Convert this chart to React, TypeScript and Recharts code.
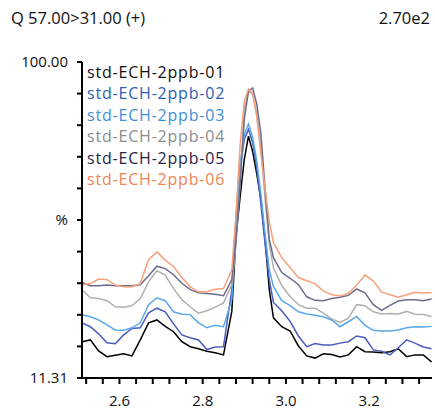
import { LineChart, Line, XAxis, YAxis } from "recharts";

const retention = [
  2.51, 2.53, 2.55, 2.57, 2.59, 2.61, 2.63, 2.65, 2.67, 2.69,
  2.71, 2.73, 2.75, 2.77, 2.79, 2.81, 2.83, 2.85,
  2.87, 2.88, 2.89, 2.9, 2.91, 2.92, 2.93, 2.94, 2.95, 2.96,
  2.97, 2.99, 3.01, 3.03, 3.05, 3.07, 3.09, 3.11, 3.13, 3.15,
  3.17, 3.19, 3.21, 3.23, 3.25, 3.27, 3.29, 3.31, 3.33, 3.35,
];

const ppb01 = [
  21.5, 22.0, 18.9, 17.3, 17.7, 18.1, 17.5, 22.0, 26.8, 27.6,
  25.8, 24.3, 21.5, 20.1, 19.5, 18.8, 18.4, 17.8,
  30.0, 51.0, 62.3, 72.7, 79.2, 74.9, 68.5, 61.4, 50.2, 36.1,
  28.2, 25.7, 24.5, 20.3, 17.5, 16.9, 18.1, 17.9, 17.2, 17.8,
  20.1, 18.7, 18.6, 18.4, 18.7, 19.5, 17.3, 17.8, 17.8, 15.8,
];
const ppb02 = [
  26.8, 25.7, 23.7, 21.2, 20.9, 23.4, 25.2, 25.4, 29.6, 30.9,
  29.9, 26.5, 23.4, 22.6, 22.0, 19.3, 20.0, 20.1,
  36.1, 56.4, 70.7, 78.3, 81.1, 77.5, 70.4, 60.0, 48.8, 38.9,
  32.5, 30.2, 27.2, 23.1, 20.1, 21.0, 20.6, 20.6, 21.1, 21.5,
  23.1, 22.6, 19.2, 18.8, 17.8, 19.8, 22.0, 21.1, 20.0, 19.5,
];
const ppb03 = [
  29.1, 28.5, 27.6, 26.2, 24.8, 24.7, 25.4, 26.8, 31.9, 33.8,
  33.0, 29.9, 29.2, 29.1, 26.8, 25.4, 26.1, 25.7,
  33.3, 54.4, 71.3, 79.7, 82.6, 78.9, 72.1, 62.8, 51.6, 41.7,
  37.0, 33.0, 31.6, 29.9, 29.3, 28.9, 28.5, 27.6, 25.7, 27.1,
  28.6, 26.1, 24.7, 24.5, 24.5, 24.8, 25.4, 25.7, 25.6, 25.8,
];
const ppb04 = [
  36.1, 33.8, 33.6, 33.0, 31.3, 31.2, 31.6, 33.6, 38.3, 41.4,
  40.2, 36.4, 33.3, 31.3, 29.5, 30.2, 31.2, 32.4,
  37.5, 48.8, 67.1, 86.8, 91.8, 91.0, 85.4, 75.5, 61.4, 48.8,
  42.3, 37.2, 34.2, 31.9, 30.9, 30.9, 29.5, 27.9, 26.9, 28.1,
  31.9, 31.6, 29.9, 29.3, 29.4, 29.3, 30.0, 29.2, 29.1, 28.6,
];
const ppb05 = [
  38.1, 37.2, 37.2, 37.4, 37.2, 37.2, 37.2, 37.5, 40.0, 42.7,
  42.0, 40.3, 37.9, 36.1, 35.2, 35.0, 34.8, 34.4,
  38.9, 50.2, 65.7, 84.0, 91.8, 92.7, 88.2, 79.7, 64.3, 50.2,
  45.1, 40.9, 39.3, 37.5, 34.1, 33.1, 33.0, 33.6, 34.0, 34.5,
  36.3, 35.2, 31.9, 30.3, 31.7, 32.9, 33.3, 33.3, 33.0, 33.5,
];
const ppb06 = [
  37.5, 37.8, 39.1, 38.9, 37.4, 36.9, 36.9, 37.8, 44.5, 46.7,
  44.4, 42.6, 39.5, 36.9, 35.5, 35.5, 36.2, 36.4,
  41.7, 57.2, 76.9, 89.0, 92.4, 91.3, 84.5, 74.1, 64.3, 55.2,
  49.3, 45.1, 42.3, 39.5, 38.6, 37.8, 35.7, 34.7, 34.3, 35.1,
  37.4, 40.2, 38.6, 35.4, 34.7, 34.0, 34.7, 35.4, 35.2, 35.3,
];

const xTicks = [
  2.52, 2.56, 2.6, 2.64, 2.68, 2.72, 2.76, 2.8, 2.84, 2.88, 2.92,
  2.96, 3.0, 3.04, 3.08, 3.12, 3.16, 3.2, 3.24, 3.28, 3.32,
];
const xLabels = ["2.6", "2.8", "3.0", "3.2"];

const yTicks = [
  11.31, 20.179, 29.048, 37.917, 46.786, 55.655, 64.524, 73.393, 82.262, 91.131, 100,
];

const series = [
  { key: "s01", name: "std-ECH-2ppb-01", values: ppb01, line: "#000000", text: "#111111" },
  { key: "s02", name: "std-ECH-2ppb-02", values: ppb02, line: "#4a5cc0", text: "#2c5fb2" },
  { key: "s03", name: "std-ECH-2ppb-03", values: ppb03, line: "#5aa8e8", text: "#3f8fd8" },
  { key: "s04", name: "std-ECH-2ppb-04", values: ppb04, line: "#b0b0b0", text: "#8c8c8c" },
  { key: "s05", name: "std-ECH-2ppb-05", values: ppb05, line: "#6b6d8c", text: "#29253f" },
  { key: "s06", name: "std-ECH-2ppb-06", values: ppb06, line: "#f7a07a", text: "#f08454" },
];

const data = retention.map((t, i) => {
  const row: Record<string, number> = { t };
  series.forEach((s) => {
    row[s.key] = s.values[i];
  });
  return row;
});

const font = "'Open Sans', sans-serif";

function fmtX(v: number) {
  const label = v.toFixed(1);
  return Math.abs(v * 5 - Math.round(v * 5)) < 0.001 && xLabels.includes(label) ? label : "";
}

function fmtY(v: number) {
  if (v === 100) return "100.00";
  if (v === 11.31) return "11.31";
  if (Math.abs(v - 55.655) < 0.01) return "%";
  return "";
}

export default function App() {
  return (
    <div
      style={{
        position: "absolute",
        left: 0,
        top: 0,
        width: 435,
        height: 409,
        background: "#fff",
        fontFamily: font,
      }}
    >
      <div style={{ position: "absolute", left: 11, top: 6, fontSize: 16.5, color: "#111", whiteSpace: "nowrap" }}>
        Q 57.00&gt;31.00 (+)
      </div>
      <div style={{ position: "absolute", right: 5, top: 6, fontSize: 16.5, color: "#111" }}>
        2.70e2
      </div>
      <LineChart width={435} height={409} data={data} margin={{ top: 62, right: 3, left: 0, bottom: 0 }}>
        <XAxis
          dataKey="t"
          type="number"
          domain={[2.51, 3.351]}
          allowDataOverflow
          ticks={xTicks}
          tickFormatter={fmtX}
          interval={0}
          height={31}
          tickSize={6}
          tickMargin={11}
          axisLine={{ stroke: "#000", strokeWidth: 2 }}
          tickLine={{ stroke: "#000", strokeWidth: 2 }}
          tick={{ fontSize: 15, fill: "#111", fontFamily: font }}
        />
        <YAxis
          type="number"
          domain={[11.31, 100]}
          allowDataOverflow
          ticks={yTicks}
          tickFormatter={fmtY}
          interval={0}
          width={82}
          tickSize={5}
          tickMargin={9}
          axisLine={{ stroke: "#000", strokeWidth: 2 }}
          tickLine={{ stroke: "#000", strokeWidth: 2 }}
          tick={{ fontSize: 15, fill: "#111", fontFamily: font }}
        />
        {series.map((s) => (
          <Line
            key={s.key}
            dataKey={s.key}
            name={s.name}
            type="linear"
            stroke={s.line}
            strokeWidth={1.5}
            dot={false}
            activeDot={false}
            isAnimationActive={false}
          />
        ))}
      </LineChart>
      <div
        style={{
          position: "absolute",
          left: 87,
          top: 62,
          fontSize: 16,
          letterSpacing: 0.8,
          lineHeight: "21.4px",
        }}
      >
        {series.map((s) => (
          <div key={s.key} style={{ color: s.text, whiteSpace: "nowrap" }}>
            {s.name}
          </div>
        ))}
      </div>
    </div>
  );
}
